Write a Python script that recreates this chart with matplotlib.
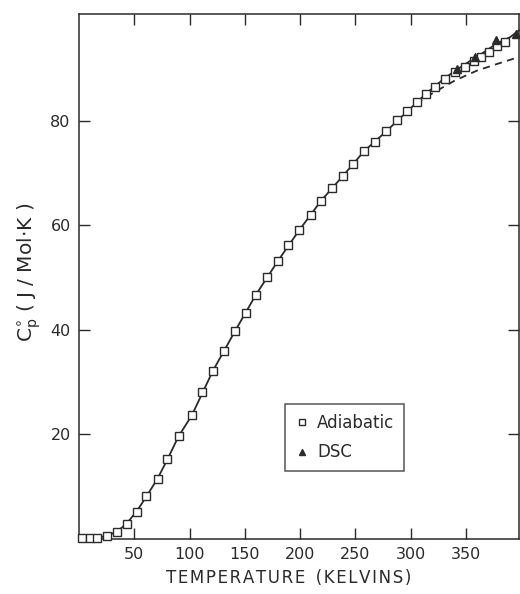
import numpy as np
import matplotlib
matplotlib.use('Agg')
import matplotlib.pyplot as plt

# adiabatic calorimetry points
adiabatic_T = [3, 10, 16, 25, 34, 43, 52, 61, 71, 80, 90, 102, 111, 121, 131, 141,
               151, 160, 170, 180, 189, 199, 210, 219, 229, 239, 248, 258, 268, 278,
               288, 297, 306, 314, 322, 331, 340, 349, 357, 364, 371, 378, 385]
adiabatic_cp = [0.05, 0.05, 0.1, 0.6, 1.3, 2.9, 5.2, 8.1, 11.5, 15.2, 19.6, 23.6, 28.0,
                32.1, 35.9, 39.7, 43.3, 46.7, 50.1, 53.2, 56.2, 59.0, 61.9, 64.7, 67.1,
                69.5, 71.8, 74.2, 75.9, 78.0, 80.2, 81.8, 83.5, 85.2, 86.5, 88.0, 89.3,
                90.3, 91.5, 92.3, 93.1, 94.4, 95.0]

# DSC points
dsc_T = [342, 358, 377, 395]
dsc_cp = [89.9, 92.2, 95.5, 96.7]

# smoothed fit (solid) and extrapolation (dashed)
fit_T = [0, 3, 16, 25, 34, 43, 52, 61, 71, 80, 90, 102, 121, 141, 160, 180, 199,
         219, 239, 258, 278, 297, 314, 331, 349, 364, 378, 390, 398]
fit_cp = [0, 0.05, 0.1, 0.6, 1.3, 2.9, 5.2, 8.1, 11.5, 15.2, 19.6, 23.6, 32.1, 39.7,
          46.7, 53.2, 59.0, 64.7, 69.5, 74.2, 78.0, 81.8, 85.2, 88.2, 90.8, 92.8, 94.8,
          96.0, 97.3]
extrap_T = [305, 320, 340, 360, 380, 398]
extrap_cp = [83.2, 85.3, 87.7, 89.6, 91.0, 92.2]

x_ticks = [50, 100, 150, 200, 250, 300, 350]
y_ticks = [20, 40, 60, 80]

ink = '#2a2a2a'
plt.rcParams['font.family'] = ['DejaVu Sans']

fig = plt.figure(figsize=(5.2, 5.94), dpi=100)
ax = fig.add_axes([0.152, 0.093, 0.846, 0.884])

ax.plot(fit_T, fit_cp, '-', color=ink, lw=1.3, zorder=2, clip_on=False)
ax.plot(extrap_T, extrap_cp, '--', color=ink, lw=1.3, dashes=(4, 3), zorder=2)
ax.plot(adiabatic_T, adiabatic_cp, 's', ms=5.4, mfc='white', mec=ink, mew=1.0,
        zorder=3, label='Adiabatic', clip_on=False)
ax.plot(dsc_T, dsc_cp, '^', ms=6, mfc=ink, mec=ink, zorder=4, label='DSC',
        clip_on=False)

ax.set_xlim(0, 398)
ax.set_ylim(0, 100.5)
ax.set_xticks(x_ticks)
ax.set_yticks(y_ticks)
ax.tick_params(direction='in', length=8, width=1.0, color=ink, labelcolor=ink,
               labelsize=11.5, top=True, right=True, pad=6)
for s in ax.spines.values():
    s.set_color(ink)
    s.set_linewidth(1.1)

# letter-spaced axis title, like the original print
xlabel = '\u200a'.join('TEMPERATURE') + '  ' + '\u200a'.join('(KELVINS)')
ax.set_xlabel(xlabel, fontsize=12, color=ink)
ax.xaxis.set_label_coords(0.477, -0.058)
ax.set_ylabel(r'$\mathregular{C_p^{\circ}}$ ( J / Mol$\cdot$K )', fontsize=14.5,
              color=ink)
ax.yaxis.set_label_coords(-0.083, 0.507)

leg = ax.legend(loc='upper left', bbox_to_anchor=(0.45, 0.273), frameon=True,
                fancybox=False, edgecolor=ink, fontsize=12, handlelength=0.8,
                handletextpad=0.5, borderpad=0.6, labelspacing=0.7, markerscale=0.8)
leg.get_frame().set_linewidth(1.1)
for t in leg.get_texts():
    t.set_color(ink)

plt.savefig('out.png', dpi=100)
plt.close()
